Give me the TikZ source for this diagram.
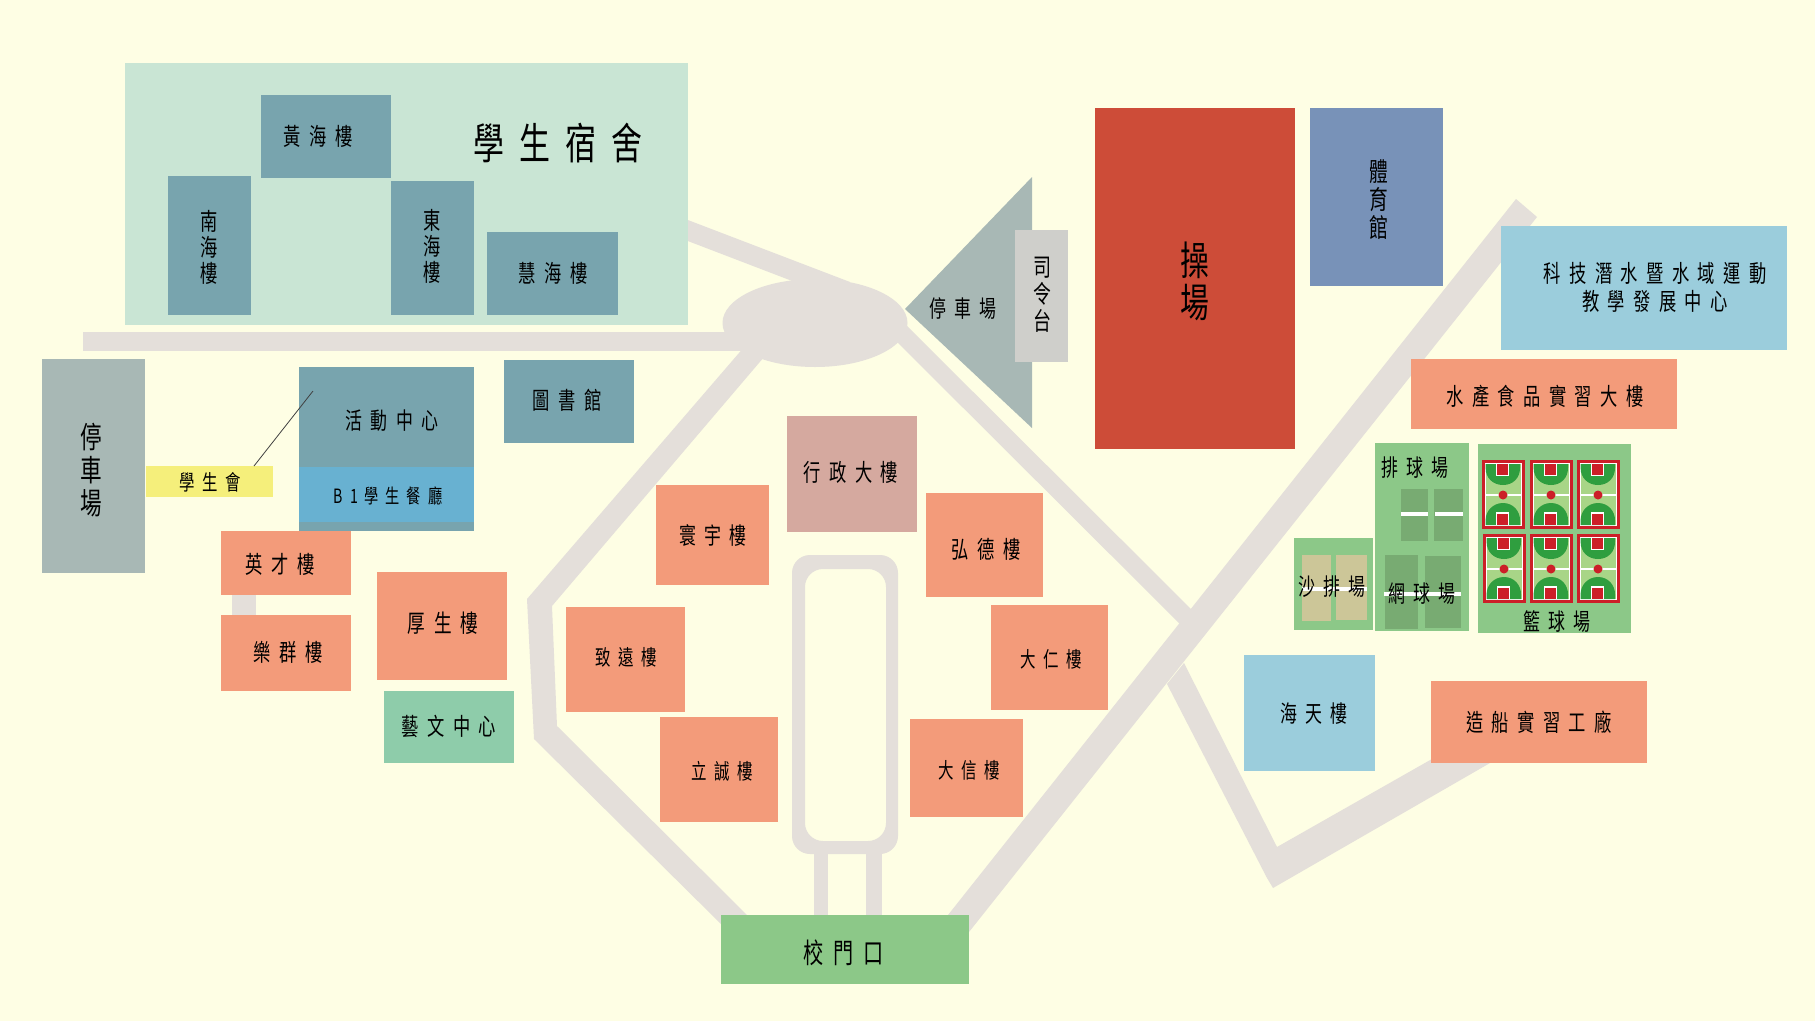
\documentclass[tikz,border=0pt]{standalone}
\usepackage{fontspec}
\newfontfamily\cjk[FakeStretch=0.72,LetterSpace=35]{Noto Sans CJK TC}
\newcommand\F[2]{\cjk\fontsize{#1}{#2}\selectfont}
\definecolor{bgc}{HTML}{FEFEE4}
\definecolor{roadc}{HTML}{E4DFDA}
\definecolor{dorm}{HTML}{C9E5D4}
\definecolor{teal}{HTML}{78A4AE}
\definecolor{bone}{HTML}{68B1D1}
\definecolor{yel}{HTML}{F5EF7B}
\definecolor{org}{HTML}{F39B7A}
\definecolor{park}{HTML}{A8B8B5}
\definecolor{stage}{HTML}{CFCFCB}
\definecolor{track}{HTML}{CD4C38}
\definecolor{gym}{HTML}{7892B8}
\definecolor{sky}{HTML}{9BCDDC}
\definecolor{grn}{HTML}{8CC888}
\definecolor{art}{HTML}{8ECCAA}
\definecolor{admin}{HTML}{D5A99F}
\definecolor{dkcourt}{HTML}{78AB72}
\definecolor{sand}{HTML}{CCC698}
\definecolor{cred}{HTML}{CC1F28}
\definecolor{lgt}{HTML}{A8D587}
\definecolor{dgr}{HTML}{2F9E3F}
\tikzset{
  road/.style={fill=roadc},
  lab/.style={font=\F{#1}{#1},inner sep=0pt,text=black},
  vlab/.style 2 args={font=\F{#1}{#2},inner sep=0pt,text=black,align=center},
}
\newcommand\bx[5]{\fill[#1] (#2,#3) rectangle (#4,#5);}
\newcommand\court[2]{%
  \begin{scope}[shift={(#1,#2)}]
    \fill[cred] (0,0) rectangle (42.5,69);
    \fill[white] (2.8,3) rectangle (39.7,66);
    \fill[lgt] (3.6,4) rectangle (38.9,65);
    \fill[white] (3.6,34) rectangle (38.9,36);
    \fill[dgr] (3.6,4) -- (3.6,8) .. controls (3.6,18) and (11,25) .. (21,25) .. controls (31,25) and (38,18) .. (38,8) -- (38,4) -- cycle;
    \fill[dgr] (3.6,65) -- (3.6,60) .. controls (3.6,51) and (11,43) .. (21,43) .. controls (31,43) and (38,51) .. (38,60) -- (38,65) -- cycle;
    \fill[white] (14,4) rectangle (27,15.8);
    \fill[cred] (15.2,4) rectangle (25.8,14.5);
    \fill[white] (14,52.2) rectangle (27,65);
    \fill[cred] (15.2,53.5) rectangle (25.8,64.5);
    \fill[cred] (21,35) circle[radius=4.5];
  \end{scope}}
\begin{document}
\begin{tikzpicture}[x=1pt,y=-1pt]
\useasboundingbox (0,0) rectangle (1815,1021);
\fill[bgc] (0,0) rectangle (1815,1021);
% roads
\fill[road] (680,217) -- (850,282) -- (800,284) -- (680,238) -- cycle;
\fill[road] (83,332) rectangle (770,351);
\fill[road] (745,346) -- (527,599) -- (534,739) -- (721,924) -- (747,915) -- (557,726) -- (552,606) -- (770,350) -- cycle;
\fill[road] (900,319) -- (1195,613) -- (1185,629) -- (890,335) -- cycle;
\fill[road] (1516,199) -- (1537,217) -- (969,932) -- (948,915) -- cycle;
\fill[road] (1184,663) -- (1277,847) -- (1490,726) -- (1490,763) -- (1273,888) -- (1267,878) -- (1167,684) -- cycle;
\fill[road] (815,323) ellipse[x radius=92.5,y radius=44];
\fill[road,even odd rule,rounded corners=18pt] (792,555) rectangle (898,854) (805,569) rectangle (886,841);
\fill[road] (814,850) rectangle (828,915);
\fill[road] (866,850) rectangle (882,915);
\fill[road] (232,590) rectangle (256,620);
% dorm
\bx{dorm}{125}{63}{688}{325}
\bx{teal}{261}{95}{391}{178}
\bx{teal}{168}{176}{251}{315}
\bx{teal}{391}{181}{474}{315}
\bx{teal}{487}{232}{618}{315}
% west
\bx{park}{42}{359}{145}{573}
\bx{teal}{299}{367}{474}{531}
\bx{bone}{299}{467}{474}{522}
\bx{yel}{146}{466}{273}{497}
\coordinate (stuEnd) at (254,466);
\coordinate (hallEnd) at (313,391);
\draw[black!75,line width=0.8pt] (stuEnd) -- (hallEnd);
\bx{org}{221}{531}{351}{595}
\bx{org}{221}{615}{351}{691}
\bx{org}{377}{572}{507}{680}
\bx{art}{384}{691}{514}{763}
\bx{teal}{504}{360}{634}{443}
% centre
\bx{admin}{787}{416}{917}{532}
\bx{org}{656}{485}{769}{585}
\bx{org}{926}{493}{1043}{597}
\bx{org}{566}{607}{685}{712}
\bx{org}{991}{605}{1108}{710}
\bx{org}{660}{717}{778}{822}
\bx{org}{910}{719}{1023}{817}
\bx{grn}{721}{915}{969}{984}
% east
\fill[park] (905,309) -- (1032,177) -- (1032,428) -- cycle;
\bx{stage}{1015}{230}{1068}{362}
\bx{track}{1095}{108}{1295}{449}
\bx{gym}{1310}{108}{1443}{286}
\bx{sky}{1501}{226}{1787}{350}
\bx{org}{1411}{359}{1677}{429}
\bx{org}{1431}{681}{1647}{763}
\bx{sky}{1244}{655}{1375}{771}
% courts
\bx{grn}{1294}{538}{1373}{630}
\bx{sand}{1302}{555}{1331}{621}
\bx{sand}{1336}{555}{1367}{620}
\bx{white}{1302}{587}{1367}{591}
\bx{grn}{1375}{443}{1469}{631}
\bx{dkcourt}{1401}{489}{1428}{541}
\bx{dkcourt}{1434}{489}{1463}{541}
\bx{white}{1401}{512}{1428}{516}
\bx{white}{1435}{512}{1463}{516}
\bx{dkcourt}{1385}{555}{1418}{629}
\bx{dkcourt}{1425}{556}{1461}{628}
\bx{white}{1384}{592}{1461}{596}
\bx{grn}{1478}{444}{1631}{633}
\court{1482}{460}
\court{1530}{460}
\court{1577}{460}
\court{1483}{534}
\court{1530}{534}
\court{1577}{534}
% labels
\node[lab=24] (t1) at (318,136) {黃海樓};
\node[lab=43] (t2) at (558,143) {學生宿舍};
\node[vlab={24}{26}] (t3) at (209,247) {南\\海\\樓};
\node[vlab={24}{26}] (t4) at (432,246) {東\\海\\樓};
\node[lab=24] (t5) at (553,273) {慧海樓};
\node[vlab={30}{33}] (t6) at (91,470) {停\\車\\場};
\node[lab=23.5] (t7) at (392,421) {活動中心};
\node[lab=19.7] (t8) at (388,496) {B1學生餐廳};
\node[lab=21.4] (t9) at (210,482) {學生會};
\node[lab=24] (t10) at (280,564) {英才樓};
\node[lab=24] (t11) at (288,652) {樂群樓};
\node[lab=24.5] (t12) at (443,623) {厚生樓};
\node[lab=24] (t13) at (449,726) {藝文中心};
\node[lab=24] (t14) at (567,400) {圖書館};
\node[lab=24] (t15) at (851,472) {行政大樓};
\node[lab=23.5] (t16) at (713,536) {寰宇樓};
\node[lab=24] (t17) at (986,549) {弘德樓};
\node[lab=21.5] (t18) at (626,657) {致遠樓};
\node[lab=21.5] (t19) at (1051,659) {大仁樓};
\node[lab=21.5] (t20) at (722,771) {立誠樓};
\node[lab=21.5] (t21) at (969,770) {大信樓};
\node[lab=28] (t22) at (844,953) {校門口};
\node[lab=23.5] (t23) at (963,309) {停車場};
\node[vlab={25}{27}] (t24) at (1042,295) {司\\令\\台};
\node[vlab={40}{42}] (t25) at (1195,281) {操\\場};
\node[vlab={26}{28}] (t26) at (1379,200) {體\\育\\館};
\node[lab=24] (t27) at (1655,273) {科技潛水暨水域運動};
\node[lab=24] (t28) at (1655,301) {教學發展中心};
\node[lab=24] (t29) at (1545,396) {水產食品實習大樓};
\node[lab=24] (t30) at (1539,722) {造船實習工廠};
\node[lab=23.5] (t31) at (1314,714) {海天樓};
\node[lab=23.5] (t32) at (1415,468) {排球場};
\node[lab=23.5] (t33) at (1332,587) {沙排場};
\node[lab=23.5] (t34) at (1422,594) {網球場};
\node[lab=23.5] (t35) at (1557,622) {籃球場};
\end{tikzpicture}
\end{document}
